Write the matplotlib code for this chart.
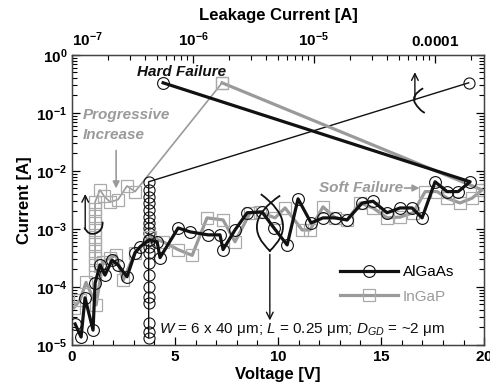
import numpy as np
import matplotlib
matplotlib.use('Agg')
import matplotlib.pyplot as plt
from matplotlib.path import Path
from matplotlib.patches import PathPatch
from matplotlib.ticker import FixedLocator, FuncFormatter, MultipleLocator, LogLocator, NullFormatter

plt.rcParams['font.family'] = ['Liberation Sans', 'DejaVu Sans']
plt.rcParams['mathtext.fontset'] = 'custom'
plt.rcParams['mathtext.rm'] = 'Liberation Sans'
plt.rcParams['mathtext.it'] = 'Liberation Sans:italic'
plt.rcParams['mathtext.bf'] = 'Liberation Sans:bold'

# AlGaAs vs voltage (bottom axis), last point = hard failure
algaas_v = [0.15, 0.44, 0.63, 1.02, 1.12, 1.36, 1.6, 1.94, 2.23, 2.67, 3.06, 3.3, 3.74,
            4.13, 4.27, 5.15, 5.73, 6.6, 7.18, 7.33, 7.91, 8.5, 9.22, 9.8, 10.44, 10.97,
            11.6, 12.18, 12.77, 13.35, 14.08, 14.61, 15.29, 15.92, 16.5, 16.99, 17.62,
            18.2, 18.74, 19.32, 4.42]
algaas_i = [2.3e-5, 1.37e-5, 6.5e-5, 1.8e-5, 1.17e-4, 2.4e-4, 1.6e-4, 2.9e-4, 2.4e-4,
            1.5e-4, 3.9e-4, 4.9e-4, 6.5e-4, 6.0e-4, 3.2e-4, 1.04e-3, 8.9e-4, 7.9e-4,
            7.9e-4, 4.4e-4, 9.6e-4, 1.9e-3, 1.96e-3, 1.04e-3, 5.3e-4, 3.3e-3, 1.27e-3,
            1.55e-3, 1.55e-3, 1.43e-3, 2.8e-3, 3.0e-3, 1.9e-3, 2.3e-3, 2.3e-3, 1.55e-3,
            6.5e-3, 4.4e-3, 4.4e-3, 6.5e-3, 0.33]

# InGaP vs voltage (bottom axis), last point = failure
ingap_v = [0.1, 0.39, 0.68, 1.17, 1.5, 1.84, 2.14, 2.48, 3.06, 3.79, 4.42, 5.15, 5.83,
           6.55, 7.33, 7.91, 8.64, 9.13, 9.85, 10.34, 11.17, 11.55, 12.18, 12.77, 13.35,
           13.98, 14.61, 15.29, 15.92, 16.55, 17.14, 17.72, 18.2, 18.83, 19.42, 19.9, 7.28]
ingap_i = [4.4e-5, 6.0e-5, 1.2e-4, 4.9e-5, 2.7e-4, 3.2e-4, 3.5e-4, 1.3e-4, 3.9e-4,
           7.3e-4, 6.0e-4, 4.4e-4, 3.5e-4, 1.55e-3, 1.43e-3, 6.0e-4, 1.9e-3, 1.96e-3,
           1.55e-3, 2.3e-3, 9.6e-4, 9.6e-4, 2.4e-3, 1.55e-3, 1.43e-3, 2.8e-3, 2.3e-3,
           1.55e-3, 1.6e-3, 1.9e-3, 4.4e-3, 4.4e-3, 3.4e-3, 2.8e-3, 3.4e-3, 4.7e-3, 0.33]

# current vs leakage current (top axis)
algaas_leak = [4.3e-7] * 20 + [1.9e-4]
algaas_leak_i = [1.32e-5, 1.67e-5, 2.4e-5, 5.3e-5, 6.7e-5, 1.0e-4, 1.6e-4, 2.6e-4, 3.9e-4,
                 4.9e-4, 6.5e-4, 8.5e-4, 1.04e-3, 1.27e-3, 1.6e-3, 2.1e-3, 2.8e-3, 3.6e-3,
                 4.7e-3, 6.5e-3, 0.33]
ingap_leak = [1.55e-7] * 11 + [1.70e-7, 1.84e-7, 2.06e-7, 2.40e-7, 2.85e-7, 3.32e-7, 1.74e-6]
ingap_leak_i = [1.8e-4, 2.4e-4, 3.2e-4, 4.2e-4, 5.5e-4, 7.3e-4, 9.6e-4, 1.27e-3, 1.7e-3,
                2.2e-3, 2.9e-3, 4.7e-3, 3.7e-3, 2.9e-3, 3.2e-3, 5.5e-3, 4.4e-3, 0.33]

black = '#111111'
gray = '#9a9a9a'
sq_edge = '#aaaaaa'

fig = plt.figure(figsize=(4.9, 3.92), dpi=100)
ax = fig.add_axes([0.147, 0.120, 0.841, 0.740])
ax2 = ax.twiny()

# top-axis curves (thin)
ax2.plot(ingap_leak, ingap_leak_i, color=gray, lw=1.2, marker='s', ms=8.5,
         mfc='none', mec=sq_edge, mew=0.9, zorder=2)
ax2.plot(algaas_leak, algaas_leak_i, color=black, lw=1.0, marker='o', ms=8,
         mfc='none', mec=black, mew=0.8, zorder=3)

# bottom-axis curves (thick)
ax.plot(ingap_v, ingap_i, color=gray, lw=2.3, marker='s', ms=8.5,
        mfc='none', mec=sq_edge, mew=0.9, label='InGaP', zorder=2)
ax.plot(algaas_v, algaas_i, color=black, lw=2.3, marker='o', ms=8.5,
        mfc='none', mec=black, mew=0.8, label='AlGaAs', zorder=3)

ax.set_yscale('log')
ax.set_xlim(0, 20)
ax.set_ylim(1e-5, 1)
ax2.set_xscale('log')
ax2.set_xlim(1e-7, 2.55e-4)
ax.set_zorder(ax2.get_zorder() + 1)
ax.patch.set_visible(False)

ax.xaxis.set_major_locator(MultipleLocator(5))
ax.xaxis.set_minor_locator(MultipleLocator(1))
ax.yaxis.set_major_locator(LogLocator(base=10, numticks=10))
ax.yaxis.set_minor_locator(LogLocator(base=10, subs=np.arange(2, 10), numticks=20))
ax.yaxis.set_minor_formatter(NullFormatter())
ax.yaxis.set_major_formatter(FuncFormatter(lambda v, p: r'$\mathbf{10^{%d}}$' % round(np.log10(v))))
ax.xaxis.set_major_formatter(FuncFormatter(lambda v, p: r'$\mathbf{%d}$' % v))
ax.tick_params(axis='both', which='both', direction='in', right=True, labelsize=11)
ax.tick_params(which='major', length=6, width=0.9)
ax.tick_params(which='minor', length=3.5, width=0.8)

top_ticks = [1e-7, 1e-6, 1e-5, 1e-4]
top_labels = [r'$\mathbf{10^{-7}}$', r'$\mathbf{10^{-6}}$', r'$\mathbf{10^{-5}}$', r'$\mathbf{0.0001}$']
ax2.xaxis.set_major_locator(FixedLocator(top_ticks))
ax2.xaxis.set_major_formatter(FuncFormatter(lambda v, p: top_labels[top_ticks.index(v)] if v in top_ticks else ''))
ax2.xaxis.set_minor_locator(LogLocator(base=10, subs=np.arange(2, 10), numticks=20))
ax2.xaxis.set_minor_formatter(NullFormatter())
ax2.tick_params(axis='x', which='both', direction='in', labelsize=11, pad=4)
ax2.tick_params(which='major', length=6, width=0.9)
ax2.tick_params(which='minor', length=3.5, width=0.8)
fig.canvas.draw()
ax2.get_xticklabels()[0].set_horizontalalignment('left')
ax2.get_xticklabels()[0].set_x(1e-7)

for sp in ax.spines.values():
    sp.set_linewidth(1.0)
    sp.set_color('#444444')

ax.set_xlabel('Voltage [V]', fontsize=12, fontweight='bold', labelpad=2)
ax.set_ylabel('Current [A]', fontsize=12, fontweight='bold', labelpad=3)
ax2.set_xlabel('Leakage Current [A]', fontsize=12, fontweight='bold', labelpad=8)

# legend
h, l = ax.get_legend_handles_labels()
leg = ax.legend(h[::-1], l[::-1], loc='lower right', bbox_to_anchor=(0.96, 0.095),
                frameon=False, fontsize=11, handlelength=3.8, numpoints=1,
                labelspacing=0.7, handletextpad=0.3)
leg.get_texts()[1].set_color(gray)

# annotations
tr = ax.transAxes
ax.text(0.265, 0.941, 'Hard Failure', transform=tr, ha='center', va='center',
        fontsize=11, fontweight='bold', style='italic', color=black)
ax.text(0.025, 0.793, 'Progressive', transform=tr, ha='left', va='center',
        fontsize=11, fontweight='bold', style='italic', color=gray)
ax.text(0.025, 0.724, 'Increase', transform=tr, ha='left', va='center',
        fontsize=11, fontweight='bold', style='italic', color=gray)
ax.annotate('', xy=(0.107, 0.53), xytext=(0.107, 0.68), xycoords=tr, textcoords=tr,
            arrowprops=dict(arrowstyle='-|>', color=gray, lw=1.2, mutation_scale=10))
ax.text(0.60, 0.541, 'Soft Failure', transform=tr, ha='left', va='center',
        fontsize=11, fontweight='bold', style='italic', color=gray)
ax.annotate('', xy=(0.85, 0.541), xytext=(0.80, 0.541), xycoords=tr, textcoords=tr,
            arrowprops=dict(arrowstyle='-|>', color=gray, lw=1.2, mutation_scale=10))


def brace(pts):
    codes = [Path.MOVETO] + [Path.CURVE3] * (len(pts) - 1)
    ax.add_patch(PathPatch(Path(pts, codes), transform=tr, fc='none', ec=black,
                           lw=1.3, clip_on=False, zorder=5))


# left bracket + up arrow
ax.annotate('', xy=(0.032, 0.53), xytext=(0.032, 0.39), xycoords=tr, textcoords=tr,
            arrowprops=dict(arrowstyle='->', color=black, lw=1.0, mutation_scale=12))
brace([(0.030, 0.405), (0.040, 0.375), (0.058, 0.385), (0.076, 0.395), (0.074, 0.425)])
# middle lens bracket + down arrow
brace([(0.505, 0.515), (0.405, 0.42), (0.482, 0.322)])
brace([(0.458, 0.52), (0.555, 0.42), (0.478, 0.322)])
ax.annotate('', xy=(0.480, 0.075), xytext=(0.480, 0.322), xycoords=tr, textcoords=tr,
            arrowprops=dict(arrowstyle='->', color=black, lw=1.0, mutation_scale=12))
# right bracket + up arrow
ax.annotate('', xy=(0.832, 0.95), xytext=(0.832, 0.835), xycoords=tr, textcoords=tr,
            arrowprops=dict(arrowstyle='->', color=black, lw=1.0, mutation_scale=12))
brace([(0.852, 0.885), (0.822, 0.86), (0.832, 0.835), (0.842, 0.81), (0.856, 0.80)])

ax.text(0.21, 0.052, r'$W$ = 6 x 40 μm; $L$ = 0.25 μm; $D_{GD}$ = ~2 μm', transform=tr,
        ha='left', va='center', fontsize=11, color=black)

fig.savefig('out.png', dpi=100)
